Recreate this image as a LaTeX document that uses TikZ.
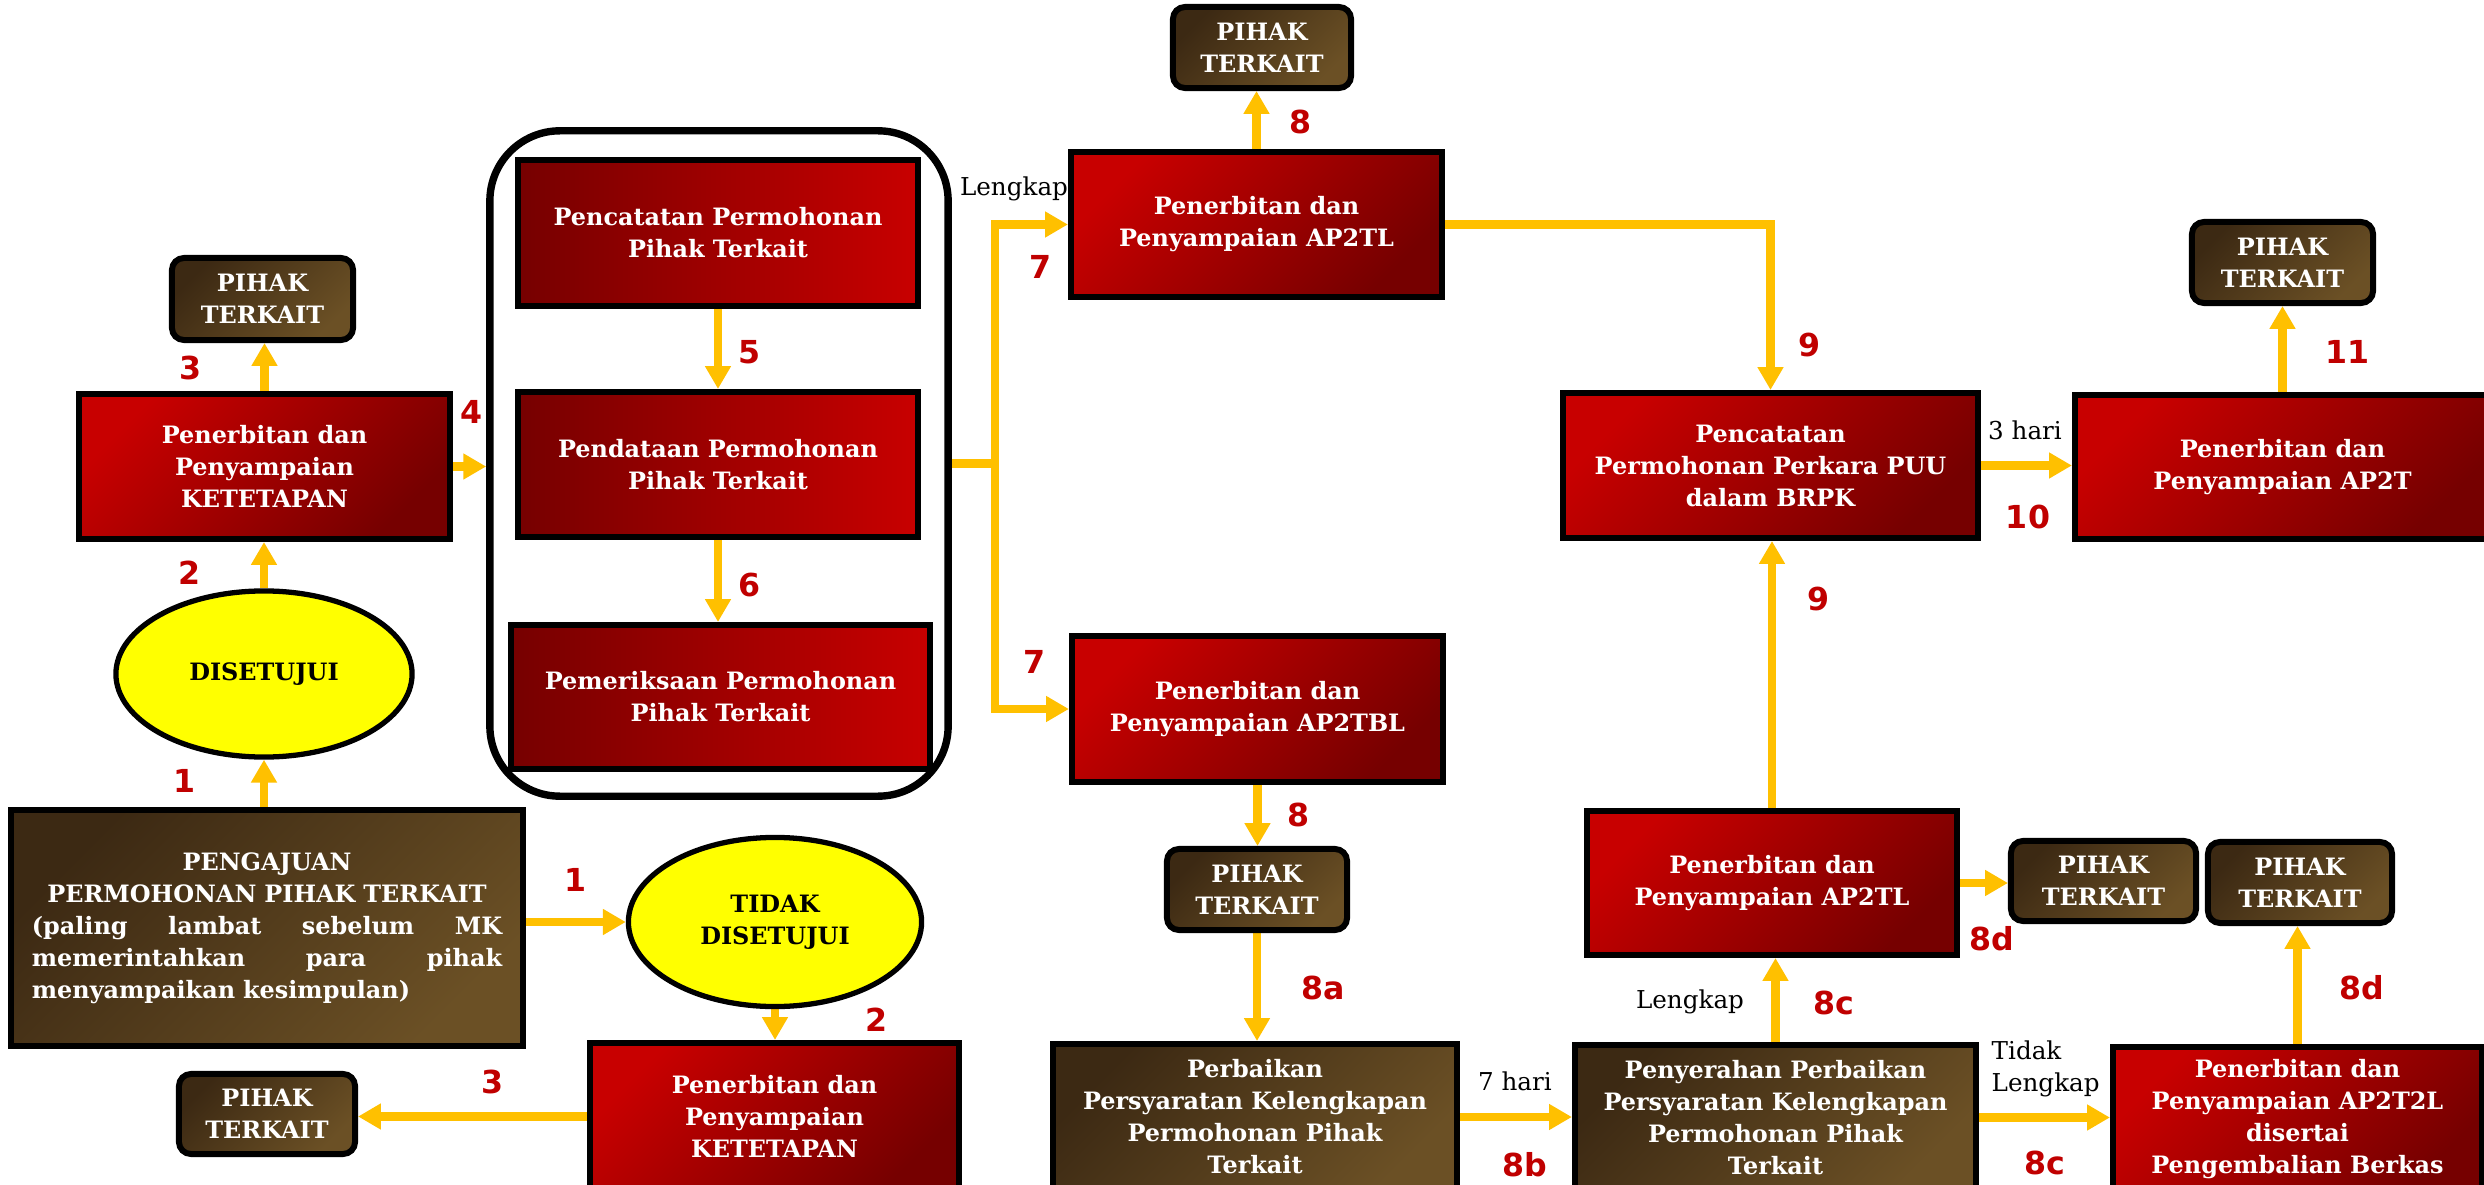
\documentclass[tikz,border=0pt]{standalone}
\usepackage{fontspec}
\setmainfont{DejaVu Serif}
\newfontfamily\numfam{DejaVu Sans}
\usetikzlibrary{arrows.meta,shapes.geometric}
\definecolor{redA}{HTML}{C80000}
\definecolor{redB}{HTML}{760000}
\definecolor{brA}{HTML}{3C2913}
\definecolor{brB}{HTML}{6B5025}
\definecolor{arrc}{HTML}{FFC000}
\definecolor{numc}{HTML}{C00000}
\definecolor{yel}{HTML}{FFFF00}
\newcommand\boxfnt{\bfseries\fontsize{6.8}{9.1}\selectfont}
\newcommand\lblfnt{\fontsize{7}{9.1}\selectfont}
\newcommand\numfnt{\numfam\bfseries\fontsize{9}{10}\selectfont}
\newcommand\fullline[1]{\leavevmode\hbox to 4.7cm{#1}}
\pgfdeclarelayer{bg}
\pgfsetlayers{bg,main}
\begin{document}
\begin{tikzpicture}[x=0.01cm,y=-0.01cm,
 redbox/.style={draw=black, line width=1.7pt, top color=redA, bottom color=redB, shading angle=45, text=white, align=center, font=\boxfnt, inner sep=0pt},
 redboxh/.style={draw=black, line width=1.7pt, left color=redB, right color=redA, text=white, align=center, font=\boxfnt, inner sep=0pt},
 brbox/.style={draw=black, line width=1.7pt, top color=brA, bottom color=brB, shading angle=45, text=white, align=center, font=\boxfnt, inner sep=0pt},
 pihak/.style={brbox, rounded corners=0.12cm},
 oval/.style={ellipse, draw=black, line width=1.5pt, fill=yel, font=\boxfnt, align=center, inner sep=0pt},
 arr/.style={draw=arrc, line width=2.3pt, -{Triangle[width=7pt,length=6.5pt]}},
 arrl/.style={draw=arrc, line width=2.3pt},
 num/.style={text=numc, font=\numfnt, inner sep=0pt},
 lbl/.style={font=\lblfnt, inner sep=0pt, align=left},
]
\useasboundingbox (0,0) rectangle (2484,1185);
\clip (0,0) rectangle (2484,1185);

% left column
\node[pihak, minimum width=1.81cm, minimum height=0.82cm] (pihak1) at (262.5,299) {PIHAK\\TERKAIT};
\node[redbox, minimum width=3.71cm, minimum height=1.45cm] (ket1) at (264.5,466.5) {Penerbitan dan\\Penyampaian\\KETETAPAN};
\node[oval, minimum width=2.96cm, minimum height=1.66cm] (dis) at (264,674) {DISETUJUI};
\node[brbox, minimum width=5.12cm, minimum height=2.36cm, text width=4.7cm] (peng) at (267,928) {PENGAJUAN\\PERMOHONAN PIHAK TERKAIT\\\fullline{(paling\hfill lambat\hfill sebelum\hfill MK}\\\fullline{memerintahkan\hfill para\hfill pihak}\\\fullline{menyampaikan kesimpulan)\hfill}};
\node[oval, minimum width=2.93cm, minimum height=1.69cm] (tidak) at (775,922) {TIDAK\\DISETUJUI};
\node[redbox, minimum width=3.69cm, minimum height=1.47cm] (ket2) at (774.5,1116.5) {Penerbitan dan\\Penyampaian\\KETETAPAN};
\node[pihak, minimum width=1.76cm, minimum height=0.80cm] (pihak2) at (267,1114) {PIHAK\\TERKAIT};

% container
\node[draw=black, line width=2.1pt, rounded corners=0.7cm, minimum width=4.58cm, minimum height=6.65cm, inner sep=0pt] (cont) at (719,463.5) {};
\node[redboxh, minimum width=4.00cm, minimum height=1.46cm] (box1) at (718,233) {Pencatatan Permohonan\\Pihak Terkait};
\node[redboxh, minimum width=4.00cm, minimum height=1.45cm] (box2) at (718,464.5) {Pendataan Permohonan\\Pihak Terkait};
\node[redboxh, minimum width=4.19cm, minimum height=1.44cm] (box3) at (720.5,697) {Pemeriksaan Permohonan\\Pihak Terkait};

% middle
\node[redbox, minimum width=3.71cm, minimum height=1.45cm] (ap2tl) at (1256.5,224.5) {Penerbitan dan\\Penyampaian AP2TL};
\node[pihak, minimum width=1.78cm, minimum height=0.81cm] (pihak3) at (1262,47.5) {PIHAK\\TERKAIT};
\node[redbox, minimum width=3.71cm, minimum height=1.46cm] (ap2tbl) at (1257.5,709) {Penerbitan dan\\Penyampaian AP2TBL};
\node[pihak, minimum width=1.80cm, minimum height=0.81cm] (pihak4) at (1257,889.5) {PIHAK\\TERKAIT};
\node[brbox, minimum width=4.04cm, minimum height=1.46cm] (perb) at (1255,1117) {Perbaikan\\Persyaratan Kelengkapan\\Permohonan Pihak\\Terkait};

% right
\node[redbox, minimum width=4.15cm, minimum height=1.45cm] (brpk) at (1770.5,465.5) {Pencatatan\\Permohonan Perkara PUU\\dalam BRPK};
\node[redbox, minimum width=4.15cm, minimum height=1.44cm] (ap2t) at (2282.5,467) {Penerbitan dan\\Penyampaian AP2T};
\node[pihak, minimum width=1.81cm, minimum height=0.81cm] (pihak5) at (2282.5,262.5) {PIHAK\\TERKAIT};
\node[redbox, minimum width=3.70cm, minimum height=1.44cm] (ap2tl2) at (1772,883) {Penerbitan dan\\Penyampaian AP2TL};
\node[pihak, minimum width=1.85cm, minimum height=0.80cm] (pihak6) at (2103.5,881) {PIHAK\\TERKAIT};
\node[pihak, minimum width=1.84cm, minimum height=0.81cm] (pihak7) at (2300,882.5) {PIHAK\\TERKAIT};
\node[brbox, minimum width=4.01cm, minimum height=1.45cm] (peny) at (1775.5,1117.5) {Penyerahan Perbaikan\\Persyaratan Kelengkapan\\Permohonan Pihak\\Terkait};
\node[redbox, minimum width=3.69cm, minimum height=1.44cm] (ap2t2l) at (2297.5,1119) {Penerbitan dan\\Penyampaian AP2T2L\\disertai\\Pengembalian Berkas};

\coordinate (br) at (995,463.5);

\begin{pgfonlayer}{bg}
\fill[white] (0,0) rectangle (2484,1185);
\draw[arr] (ket1.north) -- (ket1.north |- pihak1.south);
\draw[arr] (dis.north) -- (dis.north |- ket1.south);
\draw[arr] (dis.south |- peng.north) -- (dis.south);
\draw[arr] (tidak.west -| peng.east) -- (tidak.west);
\draw[arr] (tidak.south) -- (tidak.south |- ket2.north);
\draw[arr] (ket2.west) -- (ket2.west -| pihak2.east);
\draw[arr] (ket1.east) -- (ket1.east -| cont.west);
\draw[arr] (box1.south) -- (box1.south |- box2.north);
\draw[arr] (box2.south) -- (box2.south |- box3.north);
\draw[arrl] (cont.east) -- (br);
\draw[arr] (br) |- (ap2tl.west);
\draw[arr] (br) |- (ap2tbl.west);
\draw[arr] (ap2tl.north) -- (ap2tl.north |- pihak3.south);
\draw[arr] (ap2tbl.south) -- (ap2tbl.south |- pihak4.north);
\draw[arr] (pihak4.south) -- (pihak4.south |- perb.north);
\draw[arr] (perb.east) -- (perb.east -| peny.west);
\draw[arr] (ap2tl.east) -| (brpk.north);
\draw[arr] (ap2tl2.north) -- (ap2tl2.north |- brpk.south);
\draw[arr] (brpk.east) -- (brpk.east -| ap2t.west);
\draw[arr] (ap2t.north) -- (ap2t.north |- pihak5.south);
\draw[arr] (peny.north) -- (peny.north |- ap2tl2.south);
\draw[arr] (ap2tl2.east) -- (ap2tl2.east -| pihak6.west);
\draw[arr] (peny.east) -- (peny.east -| ap2t2l.west);
\draw[arr] (ap2t2l.north) -- (ap2t2l.north |- pihak7.south);
\end{pgfonlayer}

% numbers
\node[num] (n3a) at (191,368) {3};
\node[num] (n2a) at (190,573) {2};
\node[num] (n4) at (472,412) {4};
\node[num] (n1a) at (185,781) {1};
\node[num] (n1b) at (576,880) {1};
\node[num] (n2b) at (877,1020) {2};
\node[num] (n3b) at (493,1082) {3};
\node[num] (n5) at (750,352) {5};
\node[num] (n6) at (750,585) {6};
\node[num] (n7a) at (1040,267) {7};
\node[num] (n7b) at (1035,662) {7};
\node[num] (n8a) at (1300,122) {8};
\node[num] (n8b) at (1298,815) {8};
\node[num] (n8c) at (1323,988) {8a};
\node[num] (n8bb) at (1525,1165) {8b};
\node[num] (n9a) at (1809,345) {9};
\node[num] (n9b) at (1818,599) {9};
\node[num] (n10) at (2028,517) {10};
\node[num] (n11) at (2347,352) {11};
\node[num] (n8d1) at (1992,939) {8d};
\node[num] (n8c1) at (1834,1003) {8c};
\node[num] (n8c2) at (2045,1163) {8c};
\node[num] (n8d2) at (2362,988) {8d};

% labels
\node[lbl] (lk1) at (1014,189) {Lengkap};
\node[lbl] (h7) at (1515,1081) {7 hari};
\node[lbl] (h3) at (2025,430) {3 hari};
\node[lbl] (lk2) at (1690,1002) {Lengkap};
\node[lbl, anchor=west] (tl) at (1991,1069) {Tidak\\Lengkap};
\end{tikzpicture}
\end{document}
